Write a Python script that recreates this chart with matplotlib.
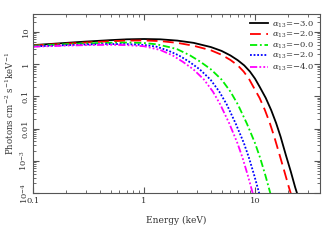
import matplotlib
matplotlib.use('Agg')
import matplotlib.pyplot as plt
from matplotlib.ticker import FixedLocator, LogLocator, NullFormatter

# energies (keV) and log10 of photon flux
e_black = [0.1, 0.15, 0.2, 0.3, 0.5, 0.7, 1.0, 1.4, 2.0, 2.8, 4.0, 5.0, 6.0, 7.0, 8.0, 9.0,
           10.0, 11.0, 12.5, 14.0, 15.5, 17.0, 19.0, 21.0, 23.0, 24.5]
f_black = [0.59, 0.63, 0.66, 0.70, 0.745, 0.77, 0.78, 0.77, 0.73, 0.66, 0.53, 0.41, 0.27, 0.12, -0.04, -0.23,
           -0.45, -0.70, -1.05, -1.43, -1.83, -2.25, -2.83, -3.33, -3.82, -4.12]

e_red = [0.1, 0.2, 0.3, 0.5, 0.7, 1.0, 1.4, 2.0, 2.8, 4.0, 5.0, 6.0, 7.0, 7.9, 8.8,
         9.65, 11.0, 12.3, 13.6, 14.9, 16.7, 18.4, 20.2, 21.5]
f_red = [0.58, 0.635, 0.67, 0.71, 0.73, 0.735, 0.715, 0.66, 0.57, 0.43, 0.29, 0.13, -0.04, -0.23, -0.45,
         -0.70, -1.05, -1.43, -1.83, -2.25, -2.83, -3.33, -3.82, -4.12]

e_green = [0.1, 0.2, 0.3, 0.5, 0.7, 1.0, 1.3, 1.73, 2.0, 2.6, 3.2, 4.0, 5.0, 6.0, 7.0, 8.46,
           10.0, 11.1, 12.4, 13.7, 14.2]
f_green = [0.57, 0.62, 0.645, 0.665, 0.67, 0.655, 0.615, 0.52, 0.46, 0.27, 0.08, -0.16, -0.48, -0.85, -1.25, -1.85,
           -2.45, -2.9, -3.45, -3.99, -4.2]

e_blue = [0.1, 0.2, 0.3, 0.5, 0.7, 1.0, 1.3, 1.65, 2.06, 2.54, 3.17, 3.97, 4.76, 5.56, 6.71,
          7.94, 8.81, 9.84, 10.87, 11.27]
f_blue = [0.55, 0.59, 0.61, 0.625, 0.62, 0.595, 0.54, 0.42, 0.27, 0.08, -0.16, -0.48, -0.85, -1.25, -1.85,
          -2.45, -2.9, -3.45, -3.99, -4.2]

e_mag = [0.1, 0.2, 0.3, 0.5, 0.7, 1.0, 1.4, 1.81, 2.22, 2.78, 3.47, 4.17, 4.86, 5.88, 6.94,
         7.71, 8.61, 9.51, 9.86]
f_mag = [0.54, 0.575, 0.59, 0.60, 0.59, 0.555, 0.44, 0.27, 0.08, -0.16, -0.48, -0.85, -1.25, -1.85, -2.45,
         -2.9, -3.45, -3.99, -4.2]

labels = ['-3.0', '-2.0', '-0.0', '-2.0', '-4.0']

plt.rcParams['font.family'] = ['DejaVu Serif']
plt.rcParams['mathtext.fontset'] = 'dejavuserif'

fig = plt.figure(figsize=(3.34, 2.41), dpi=100)
ax = fig.add_axes([0.099, 0.199, 0.859, 0.743])

series = [(e_black, f_black, 'black', '-'),
          (e_red, f_red, 'red', (0, (6, 3))),
          (e_green, f_green, '#00ee00', (0, (4, 1.5, 1, 1.5))),
          (e_blue, f_blue, 'blue', (0, (1, 1))),
          (e_mag, f_mag, 'magenta', (0, (4, 1.2, 1, 1.2, 1, 1.2, 1, 1.2)))]

for (e, f, c, ls), lab in zip(series, labels):
    ax.plot(e, [10 ** v for v in f], color=c, ls=ls, lw=1.3,
            label=r'$\alpha_{13}$=$-$' + lab[1:])

ax.set_xscale('log')
ax.set_yscale('log')
ax.set_xlim(0.1, 38.5)
ax.set_ylim(1e-4, 36)

gray = '#555555'
for s in ax.spines.values():
    s.set_color(gray)
ax.tick_params(which='both', direction='in', top=True, right=True, colors=gray,
               labelcolor='#333333', labelsize=6)
ax.tick_params(which='major', length=4, pad=2.5)
ax.tick_params(which='minor', length=2)

ax.xaxis.set_major_locator(FixedLocator([0.1, 1, 10]))
ax.set_xticklabels(['0.1', '1', '10'])
ax.xaxis.set_minor_locator(LogLocator(base=10, subs=range(2, 10)))
ax.xaxis.set_minor_formatter(NullFormatter())

ax.yaxis.set_major_locator(FixedLocator([1e-4, 1e-3, 0.01, 0.1, 1, 10]))
ax.set_yticklabels([r'10$^{-4}$', r'10$^{-3}$', '0.01', '0.1', '1', '10'],
                   rotation=90, va='center')
ax.yaxis.set_minor_locator(LogLocator(base=10, subs=range(2, 10)))
ax.yaxis.set_minor_formatter(NullFormatter())

ax.set_xlabel('Energy (keV)', fontsize=6.5, color='#333333', labelpad=8)
ax.set_ylabel(r'Photons cm$^{-2}$ s$^{-1}$keV$^{-1}$', fontsize=6.2, color='#333333', labelpad=2)

leg = ax.legend(loc='upper right', fontsize=6, frameon=False, handlelength=2.2,
                handletextpad=0.5, labelspacing=0.05, borderaxespad=0.25)
for t in leg.get_texts():
    t.set_color('#333333')

fig.savefig('out.png', dpi=100)
